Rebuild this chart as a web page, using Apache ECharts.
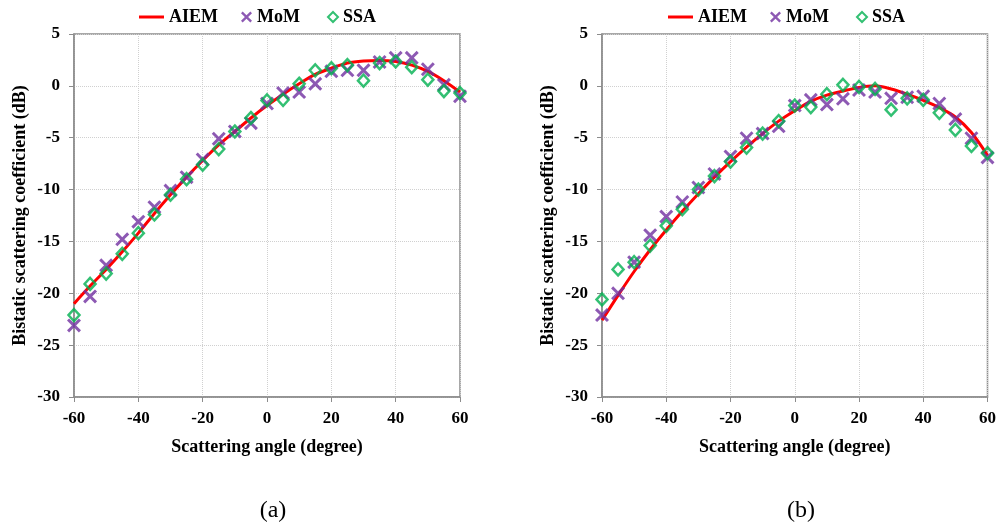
<!DOCTYPE html>
<html>
<head>
<meta charset="utf-8">
<script src="https://cdn.jsdelivr.net/npm/echarts@6/dist/echarts.min.js"></script>
<style>html,body{margin:0;padding:0;background:#fff}#c{width:999px;height:529px}</style>
</head>
<body>
<div id="c"></div>
<script>
var angles = [-60,-55,-50,-45,-40,-35,-30,-25,-20,-15,-10,-5,0,5,10,15,20,25,30,35,40,45,50,55,60];
var xTicks = [-60,-40,-20,0,20,40,60];
var yTicks = [-30,-25,-20,-15,-10,-5,0,5];

var aiemA = [-21.0,-19.3,-17.7,-16.0,-14.2,-12.3,-10.5,-8.8,-7.2,-5.7,-4.4,-3.1,-1.9,-0.8,0.2,1.1,1.7,2.2,2.4,2.45,2.35,2.0,1.4,0.5,-0.6];
var momA  = [-23.1,-20.3,-17.3,-14.8,-13.1,-11.7,-10.1,-8.8,-7.1,-5.1,-4.4,-3.6,-1.7,-0.7,-0.6,0.2,1.4,1.5,1.5,2.3,2.7,2.7,1.6,0.1,-1.0];
var ssaA  = [-22.1,-19.1,-18.1,-16.2,-14.2,-12.4,-10.5,-9.0,-7.6,-6.1,-4.4,-3.1,-1.4,-1.35,0.2,1.5,1.7,2.0,0.5,2.2,2.35,1.8,0.6,-0.5,-0.7];

var aiemB = [-22.6,-20.2,-17.9,-15.8,-13.9,-12.1,-10.4,-8.8,-7.3,-5.9,-4.6,-3.4,-2.4,-1.5,-0.9,-0.5,-0.15,0.0,-0.3,-0.8,-1.4,-2.1,-3.0,-4.5,-6.7];
var momB  = [-22.1,-20.0,-17.0,-14.4,-12.6,-11.2,-9.8,-8.5,-6.8,-5.05,-4.6,-3.9,-1.9,-1.35,-1.8,-1.25,-0.4,-0.6,-1.2,-1.1,-1.0,-1.7,-3.2,-5.05,-6.9];
var ssaB  = [-20.6,-17.7,-17.0,-15.4,-13.5,-11.9,-10.0,-8.7,-7.3,-5.95,-4.6,-3.4,-1.9,-2.05,-0.8,0.1,-0.1,-0.3,-2.3,-1.2,-1.35,-2.6,-4.25,-5.8,-6.5];

function pairs(ys){ return angles.map(function(a,i){ return [a, ys[i]]; }); }

var FONT = 'Liberation Serif';
var crossPath = 'path://M0,1.5 L1.5,0 L5,3.5 L8.5,0 L10,1.5 L6.5,5 L10,8.5 L8.5,10 L5,6.5 L1.5,10 L0,8.5 L3.5,5 Z';
var purple = '#7030a0', green = '#00b050', red = '#ff0000';

function xAxisCfg(gi){
  return {
    gridIndex: gi, type: 'value', min: -60, max: 60, interval: 20,
    name: 'Scattering angle (degree)', nameLocation: 'middle', nameGap: 41,
    nameTextStyle: {fontFamily: FONT, fontWeight: 'bold', fontSize: 18, color: '#000'},
    axisLine: {show: true, onZero: false, lineStyle: {color: '#8c8c8c', width: 1.5}},
    axisTick: {show: true, length: 5, lineStyle: {color: '#8c8c8c'}},
    axisLabel: {fontFamily: FONT, fontWeight: 'bold', fontSize: 17, color: '#000', margin: 13,
      formatter: function(v){ return xTicks.indexOf(v) >= 0 ? String(v) : ''; }},
    splitLine: {show: true, lineStyle: {color: '#d0d0d0', type: 'dotted', width: 1}}
  };
}
function yAxisCfg(gi){
  return {
    gridIndex: gi, type: 'value', min: -30, max: 5, interval: 5,
    name: 'Bistatic scattering coefficient (dB)', nameLocation: 'middle', nameGap: 45,
    nameTextStyle: {fontFamily: FONT, fontWeight: 'bold', fontSize: 18, color: '#000'},
    axisLine: {show: true, onZero: false, lineStyle: {color: '#8c8c8c', width: 1.5}},
    axisTick: {show: true, length: 5, lineStyle: {color: '#8c8c8c'}},
    axisLabel: {fontFamily: FONT, fontWeight: 'bold', fontSize: 17, color: '#000', margin: 14,
      formatter: function(v){ return yTicks.indexOf(v) >= 0 ? String(v) : ''; }},
    splitLine: {show: true, lineStyle: {color: '#d0d0d0', type: 'dotted', width: 1}}
  };
}
function seriesFor(gi, aiem, mom, ssa){
  return [
    {name: 'AIEM', type: 'line', xAxisIndex: gi, yAxisIndex: gi, data: pairs(aiem), smooth: 0.3,
     showSymbol: false, symbol: 'none', lineStyle: {color: red, width: 3}, itemStyle: {color: red}, z: 2},
    {name: 'MoM', type: 'scatter', xAxisIndex: gi, yAxisIndex: gi, data: pairs(mom),
     symbol: crossPath, symbolSize: 14, itemStyle: {color: purple}, z: 3},
    {name: 'SSA', type: 'scatter', xAxisIndex: gi, yAxisIndex: gi, data: pairs(ssa),
     symbol: 'diamond', symbolSize: [11, 12], itemStyle: {color: 'rgba(255,255,255,0)', borderColor: green, borderWidth: 2.5}, z: 4}
  ];
}
var legText = {fontFamily: FONT, fontWeight: 'bold', fontSize: 18, color: '#000'};
function legendsAt(off){
  return [
    {left: 134 + off, top: 3, itemWidth: 25, itemHeight: 3, itemGap: 0, textStyle: legText,
     data: [{name: 'AIEM', icon: 'rect', itemStyle: {color: red}}]},
    {left: 236 + off, top: 3, itemWidth: 11, itemHeight: 11, itemGap: 0, textStyle: legText,
     data: [{name: 'MoM', icon: crossPath, itemStyle: {color: purple}}]},
    {left: 322 + off, top: 3, itemWidth: 10, itemHeight: 10, itemGap: 0, textStyle: legText,
     data: [{name: 'SSA', icon: 'diamond', itemStyle: {color: 'rgba(255,255,255,0)', borderColor: green, borderWidth: 2}}]}
  ];
}

var chart = echarts.init(document.getElementById('c'), null, {renderer: 'canvas'});
chart.setOption({
  backgroundColor: '#fff',
  animation: false,
  title: [
    {text: '(a)', left: 268, top: 494, textAlign: 'center', textStyle: {fontFamily: FONT, fontWeight: 'normal', fontSize: 24, color: '#000'}},
    {text: '(b)', left: 796, top: 494, textAlign: 'center', textStyle: {fontFamily: FONT, fontWeight: 'normal', fontSize: 24, color: '#000'}}
  ],
  legend: legendsAt(0).concat(legendsAt(529)),
  grid: [
    {left: 74, top: 34, width: 386, height: 363, show: true, borderColor: '#8c8c8c', borderWidth: 1.5, backgroundColor: 'transparent'},
    {left: 602, top: 34, width: 386, height: 363, show: true, borderColor: '#8c8c8c', borderWidth: 1.5, backgroundColor: 'transparent'}
  ],
  xAxis: [xAxisCfg(0), xAxisCfg(1)],
  yAxis: [yAxisCfg(0), yAxisCfg(1)],
  series: seriesFor(0, aiemA, momA, ssaA).concat(seriesFor(1, aiemB, momB, ssaB))
});
</script>
</body>
</html>
